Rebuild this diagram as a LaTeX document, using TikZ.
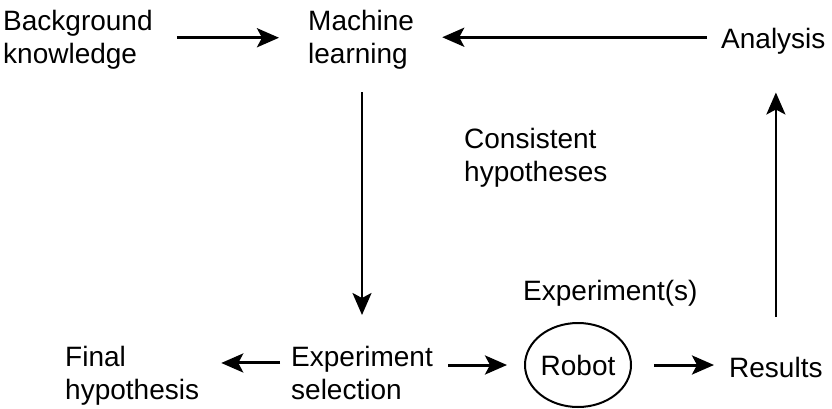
\documentclass[tikz,border=0pt]{standalone}
\usepackage{fontspec}
\setmainfont{Liberation Sans}
\usetikzlibrary{arrows.meta,shapes.geometric}

\begin{document}
\begin{tikzpicture}[x=1pt, y=-1pt,
        lbl/.style={anchor=north west, inner sep=0pt, align=left, font=\fontsize{28}{33}\selectfont},
        arr/.style={black, line width=3pt, -{Stealth[length=22pt, width=19pt, inset=5pt]}}]
        \useasboundingbox (0,0) rectangle (832,409);

        \node [lbl] (bg) at (3,10) {Background\\knowledge};
        \node [lbl] (ml) at (308,10) {Machine\\learning};
        \node [lbl] (an) at (721,28) {Analysis};
        \node [lbl] (ch) at (464,128) {Consistent\\hypotheses};
        \node [lbl] (ex) at (523,280) {Experiment(s)};
        \node [lbl] (fh) at (65,346) {Final\\hypothesis};
        \node [lbl] (es) at (291,346) {Experiment\\selection};
        \node [lbl] (re) at (729,357) {Results};
        \node [draw, ellipse, black, line width=2pt, minimum width=106pt, minimum height=84pt, inner sep=0pt,
            font=\fontsize{28}{33}\selectfont] (ro) at (578,365) {Robot};

        \draw [arr, shorten <=24pt, shorten >=29pt] ([yshift=2pt]bg.east) to ([yshift=2pt]bg.east -| ml.west);
        \draw [arr, shorten <=14pt, shorten >=28pt] ([yshift=4pt]an.west) to ([yshift=4pt]an.west -| ml.east);
        \draw [arr, line width=2.5pt, shorten <=23pt, shorten >=31pt] (es.north |- ml.south) to (es.north);
        \draw [arr, shorten <=11pt, shorten >=22pt] ([yshift=10pt]es.west) to ([yshift=10pt]es.west -| fh.east);
        \draw [arr, shorten <=15pt, shorten >=17pt] (ro.west -| es.east) to (ro.west);
        \draw [arr, shorten <=22pt, shorten >=15pt] (ro.east) to (ro.east -| re.west);
        \draw [arr, line width=2.5pt, shorten <=40pt, shorten >=38pt] (re.north) to (re.north |- an.south);
    \end{tikzpicture}
\end{document}
